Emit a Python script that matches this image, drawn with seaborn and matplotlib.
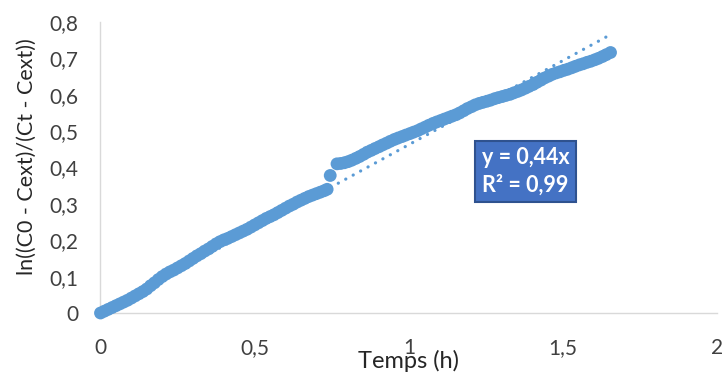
import numpy as np
import pandas as pd
import seaborn as sns
import matplotlib
matplotlib.use("Agg")
import matplotlib.pyplot as plt
from matplotlib.ticker import FuncFormatter

# Data
temps_h = [0.0000, 0.0125, 0.0250, 0.0375, 0.0500, 0.0625, 0.0750, 0.0875, 0.1000, 0.1125,
           0.1250, 0.1375, 0.1500, 0.1625, 0.1750, 0.1875, 0.2000, 0.2125, 0.2250, 0.2375,
           0.2500, 0.2625, 0.2750, 0.2875, 0.3000, 0.3125, 0.3250, 0.3375, 0.3500, 0.3625,
           0.3750, 0.3875, 0.4000, 0.4125, 0.4250, 0.4375, 0.4500, 0.4625, 0.4750, 0.4875,
           0.5000, 0.5125, 0.5250, 0.5375, 0.5500, 0.5625, 0.5750, 0.5875, 0.6000, 0.6125,
           0.6250, 0.6375, 0.6500, 0.6625, 0.6750, 0.6875, 0.7000, 0.7125, 0.7250, 0.7350,
           0.7450,
           0.7670, 0.7790, 0.7910, 0.8030, 0.8150, 0.8280, 0.8400, 0.8530, 0.8650, 0.8780,
           0.8900, 0.9030, 0.9150, 0.9280, 0.9400, 0.9530, 0.9650, 0.9780, 0.9900, 1.0030,
           1.0150, 1.0280, 1.0400, 1.0530, 1.0650, 1.0780, 1.0900, 1.1030, 1.1150, 1.1280,
           1.1400, 1.1530, 1.1650, 1.1780, 1.1900, 1.2030, 1.2150, 1.2280, 1.2400, 1.2530,
           1.2650, 1.2780, 1.2900, 1.3030, 1.3150, 1.3280, 1.3400, 1.3530, 1.3650, 1.3780,
           1.3900, 1.4030, 1.4150, 1.4280, 1.4400, 1.4530, 1.4650, 1.4780, 1.4900, 1.5030,
           1.5150, 1.5280, 1.5400, 1.5530, 1.5650, 1.5780, 1.5900, 1.6030, 1.6150, 1.6280,
           1.6400, 1.6540]
ln_ratio = [0.000, 0.005, 0.010, 0.015, 0.020, 0.025, 0.030, 0.035, 0.041, 0.047,
            0.053, 0.059, 0.066, 0.075, 0.083, 0.092, 0.100, 0.107, 0.113, 0.118,
            0.124, 0.130, 0.136, 0.143, 0.150, 0.157, 0.163, 0.170, 0.176, 0.183,
            0.190, 0.196, 0.201, 0.205, 0.210, 0.215, 0.220, 0.225, 0.230, 0.236,
            0.242, 0.248, 0.254, 0.260, 0.265, 0.270, 0.276, 0.282, 0.288, 0.294,
            0.299, 0.305, 0.310, 0.315, 0.320, 0.324, 0.328, 0.332, 0.336, 0.340,
            0.378,
            0.410, 0.411, 0.413, 0.416, 0.420, 0.425, 0.430, 0.436, 0.442, 0.447,
            0.452, 0.457, 0.462, 0.467, 0.472, 0.477, 0.481, 0.485, 0.489, 0.493,
            0.497, 0.501, 0.506, 0.511, 0.516, 0.521, 0.525, 0.529, 0.533, 0.537,
            0.541, 0.545, 0.550, 0.556, 0.562, 0.567, 0.572, 0.576, 0.579, 0.582,
            0.585, 0.589, 0.592, 0.595, 0.598, 0.601, 0.605, 0.609, 0.613, 0.618,
            0.623, 0.628, 0.634, 0.640, 0.646, 0.651, 0.656, 0.660, 0.663, 0.667,
            0.670, 0.674, 0.678, 0.682, 0.685, 0.689, 0.692, 0.696, 0.700, 0.705,
            0.710, 0.716]
x_ticks = [0, 0.5, 1, 1.5, 2]
y_ticks = [0, 0.1, 0.2, 0.3, 0.4, 0.5, 0.6, 0.7, 0.8]
equation_text = "y = 0,44x\nR² = 0,99"

df = pd.DataFrame({"Temps": temps_h, "ln": ln_ratio})

sns.set_theme(style="white")
plt.rcParams["font.family"] = ["Lato", "DejaVu Sans"]

BLUE = "#5B9BD5"
fig = plt.figure(figsize=(7.23, 3.72), dpi=100)
ax = fig.add_axes([0.139, 0.1586, 0.853, 0.7824])

sns.scatterplot(data=df, x="Temps", y="ln", ax=ax, color=BLUE, s=85,
                edgecolor="none", linewidth=0, zorder=3, clip_on=False)

# Linear trend through origin
xs = np.array(temps_h)
ys = np.array(ln_ratio)
slope = (xs * ys).sum() / (xs * xs).sum()
xl = np.array([0, xs.max()])
ax.plot(xl, slope * xl, color=BLUE, lw=2.3, linestyle=(0, (0.05, 2.6)),
        dash_capstyle="round", zorder=4)

ax.set_xlim(0, 2)
ax.set_ylim(0, 0.8)
ax.set_xticks(x_ticks)
ax.set_yticks(y_ticks)
fmt = FuncFormatter(lambda v, p: ("%g" % round(v, 2)).replace(".", ","))
ax.xaxis.set_major_formatter(fmt)
ax.yaxis.set_major_formatter(fmt)
ax.tick_params(axis="both", length=0, labelsize=15, colors="#404040")
ax.tick_params(axis="x", pad=18)
ax.tick_params(axis="y", pad=16)

for s in ["top", "right"]:
    ax.spines[s].set_visible(False)
for s in ["left", "bottom"]:
    ax.spines[s].set_color("#D9D9D9")
    ax.spines[s].set_linewidth(1.0)

ax.set_xlabel("Temps (h)", fontsize=17, color="#262626")
ax.set_ylabel("ln((C0 - Cext)/(Ct - Cext))", fontsize=15.5, color="#262626")
ax.xaxis.set_label_coords(0.5, -0.126)
ax.yaxis.set_label_coords(-0.103, 0.536)

ax.text(0.689, 0.486, equation_text, transform=ax.transAxes, ha="center", va="center",
        fontsize=15.5, fontweight="bold", color="white", linespacing=1.35,
        bbox=dict(boxstyle="square,pad=0.3", facecolor="#4472C4",
                  edgecolor="#2F528F", linewidth=1.5), zorder=5)

fig.savefig("out.png", dpi=100, facecolor="white")
